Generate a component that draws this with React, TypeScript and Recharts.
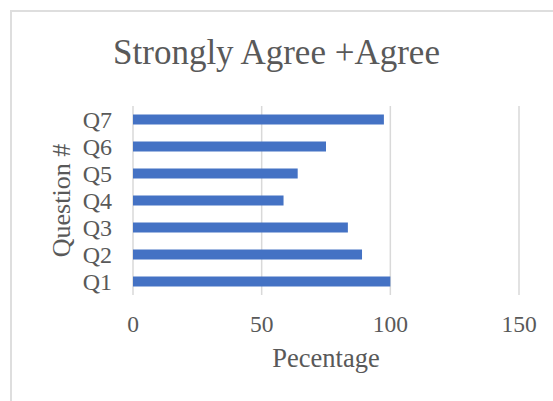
import React from 'react';
import { BarChart, Bar, XAxis, YAxis, CartesianGrid } from 'recharts';

const questions = ['Q1', 'Q2', 'Q3', 'Q4', 'Q5', 'Q6', 'Q7'];
const percentages = [100, 89, 83.5, 58.5, 64, 75, 97.5];
const xTicks = [0, 50, 100, 150];

const data = questions.map((q, i) => ({ question: q, value: percentages[i] }));

const serif = '"Liberation Serif", "Times New Roman", serif';
const textColor = '#595959';

const App: React.FC = () => {
  return (
    <div style={{ position: 'absolute', left: 0, top: 0, width: 553, height: 401, background: '#fff', fontFamily: serif }}>
      {/* chart area border, only top/left visible in the crop */}
      <div
        style={{
          position: 'absolute',
          left: 10,
          top: 10,
          width: 560,
          height: 400,
          borderLeft: '2px solid #dedede',
          borderTop: '2px solid #dedede',
        }}
      />
      <div
        style={{
          position: 'absolute',
          left: 0,
          width: 553,
          top: 32,
          textAlign: 'center',
          fontSize: 35,
          color: textColor,
          lineHeight: '42px',
        }}
      >
        Strongly Agree +Agree
      </div>
      <div style={{ position: 'absolute', left: 0, top: 0 }}>
        <BarChart
          width={553}
          height={401}
          data={data}
          layout="vertical"
          margin={{ top: 106, right: 34, bottom: 76, left: 73 }}
          barCategoryGap={8.5}
        >
          <CartesianGrid horizontal={false} stroke="#d9d9d9" strokeWidth={1.5} />
          <XAxis
            type="number"
            domain={[0, 150]}
            ticks={xTicks}
            axisLine={false}
            tickLine={false}
            height={30}
            tickMargin={14}
            tick={{ fill: textColor, fontSize: 23.5, fontFamily: serif }}
            label={{
              value: 'Pecentage',
              position: 'insideBottom',
              offset: -42,
              fill: textColor,
              fontSize: 26.5,
              fontFamily: serif,
            }}
          />
          <YAxis
            type="category"
            dataKey="question"
            reversed
            interval={0}
            width={60}
            axisLine={false}
            tickLine={false}
            tickMargin={15}
            tick={{ fill: textColor, fontSize: 24, fontFamily: serif }}
            label={{
              value: 'Question #',
              angle: -90,
              position: 'insideLeft',
              offset: -12,
              fill: textColor,
              fontSize: 26,
              fontFamily: serif,
              style: { textAnchor: 'middle' },
            }}
          />
          <Bar dataKey="value" fill="#4472c4" isAnimationActive={false} />
        </BarChart>
      </div>
    </div>
  );
};

export default App;
